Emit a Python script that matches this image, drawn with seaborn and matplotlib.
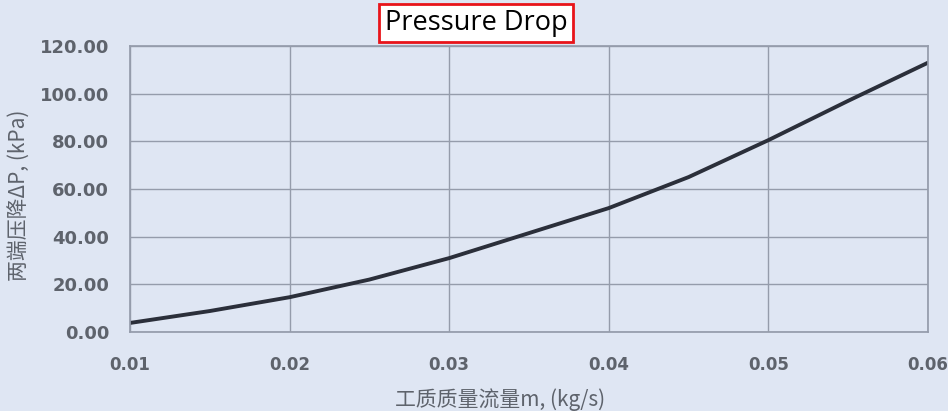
import matplotlib
matplotlib.use("Agg")
import matplotlib.pyplot as plt
import seaborn as sns
import pandas as pd

# Data
mass_flow = [0.010, 0.015, 0.020, 0.025, 0.030, 0.035, 0.040, 0.045, 0.050, 0.055, 0.060]
pressure_drop = [3.8, 8.8, 14.6, 22.0, 31.0, 41.5, 52.0, 65.0, 80.5, 97.0, 113.0]
x_ticks = [0.01, 0.02, 0.03, 0.04, 0.05, 0.06]
y_ticks = [0, 20, 40, 60, 80, 100, 120]
title_text = "Pressure Drop"
x_label = "工质质量流量m, (kg/s)"
y_label = "两端压降ΔP, (kPa)"

df = pd.DataFrame({"m": mass_flow, "dp": pressure_drop})

bg = "#dfe6f3"
sns.set_theme(style="whitegrid", rc={
    "axes.facecolor": bg,
    "figure.facecolor": bg,
    "grid.color": "#959cab",
    "grid.linewidth": 1.0,
    "axes.edgecolor": "#959cab",
})
plt.rcParams['font.family'] = ['DejaVu Sans', 'Noto Sans CJK SC']

fig = plt.figure(figsize=(9.48, 4.11), dpi=100)
ax = fig.add_axes([130/948, 1 - 332/411, (928-130)/948, (332-46)/411])

sns.lineplot(data=df, x="m", y="dp", ax=ax, color="#2b2f3a", linewidth=2.8)

ax.set_xlim(0.01, 0.06)
ax.set_ylim(0, 120)
ax.set_xticks(x_ticks)
ax.set_yticks(y_ticks)
ax.set_xticklabels([f"{v:.2f}" for v in x_ticks], family="DejaVu Sans",
                   fontweight="bold", fontsize=12, color="#5e636c")
ax.set_yticklabels([f"{v:.2f}" for v in y_ticks], family="DejaVu Sans",
                   fontweight="bold", fontsize=13, color="#5e636c")
ax.tick_params(axis="x", length=0, pad=17)
ax.tick_params(axis="y", length=0, pad=15)
for s in ax.spines.values():
    s.set_visible(True)
    s.set_color("#959cab")

ax.set_xlabel(x_label, fontsize=15, color="#5e636c",
              family=['Noto Sans CJK SC', 'DejaVu Sans'])
ax.set_ylabel(y_label, fontsize=15, color="#5e636c",
              family=['Noto Sans CJK SC', 'DejaVu Sans'])
ax.xaxis.set_label_coords((500 - 130) / 798, (332 - 400) / 286)
ax.yaxis.set_label_coords((20 - 130) / 798, (332 - 195) / 286)
ax.xaxis.label.set_va("center")
ax.yaxis.label.set_va("center")
ax.grid(True, which="major")

fig.text(476/948, 1 - 23/411, title_text, ha="center", va="center",
         fontsize=19.5, family="Open Sans", color="black",
         bbox=dict(boxstyle="square,pad=0.2", facecolor="white",
                   edgecolor="#e8141a", linewidth=2))

fig.savefig("out.png", dpi=100, facecolor=bg)
